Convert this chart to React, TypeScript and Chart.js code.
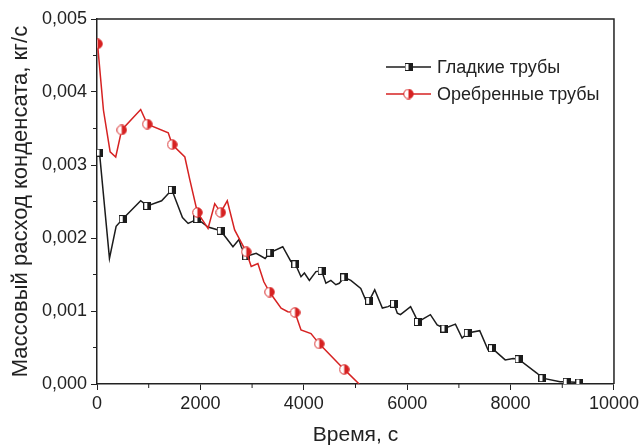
import React, { useEffect, useRef } from "react";
import { Chart, registerables } from "chart.js";

Chart.register(...registerables);

// ---- Data ----
const seriesNames = ["Гладкие трубы", "Оребренные трубы"];

const smoothTime = [48, 241, 370, 497, 845, 973, 1250, 1448, 1653, 1763, 1942, 2148, 2393, 2630, 2746, 2790, 2887, 3079, 3252, 3349, 3593, 3750, 3838, 3946, 4012, 4108, 4235, 4345, 4428, 4524, 4620, 4686, 4782, 4910, 5102, 5198, 5264, 5372, 5520, 5630, 5745, 5809, 5870, 6066, 6150, 6208, 6449, 6580, 6721, 6933, 7062, 7171, 7403, 7563, 7640, 7896, 8050, 8154, 8507, 8617, 8956, 9085, 9330];
const smoothFlow = [0.00317, 0.00172, 0.00216, 0.00226, 0.00251, 0.00244, 0.00251, 0.00266, 0.00228, 0.0022, 0.00226, 0.00215, 0.0021, 0.00188, 0.00198, 0.00188, 0.00175, 0.00179, 0.00172, 0.0018, 0.00188, 0.00168, 0.00164, 0.00147, 0.00152, 0.00142, 0.00154, 0.00155, 0.00138, 0.00142, 0.00136, 0.00138, 0.00146, 0.00142, 0.00131, 0.00115, 0.00114, 0.00129, 0.00104, 0.00106, 0.0011, 0.00097, 0.00095, 0.00106, 0.00094, 0.00085, 0.00095, 0.00081, 0.00076, 0.00082, 0.00063, 0.0007, 0.00073, 0.00047, 0.00049, 0.00033, 0.00035, 0.00034, 0.00015, 0.00008, 0.00003, 0.00003, 0.00002];
const smoothMarked = [1, 0, 0, 1, 0, 1, 0, 1, 0, 0, 1, 0, 1, 0, 0, 0, 1, 0, 0, 1, 0, 0, 1, 0, 0, 0, 0, 1, 0, 0, 0, 0, 1, 0, 0, 0, 1, 0, 0, 0, 1, 0, 0, 0, 0, 1, 0, 0, 1, 0, 0, 1, 0, 0, 1, 0, 0, 1, 0, 1, 0, 1, 1];

const ribbedTime = [10, 125, 254, 362, 478, 845, 973, 1378, 1455, 1699, 1795, 1942, 2148, 2277, 2393, 2520, 2662, 2759, 2887, 2983, 3112, 3227, 3337, 3561, 3690, 3830, 3946, 4139, 4300, 4782, 5071];
const ribbedFlow = [0.00466, 0.00375, 0.00318, 0.00311, 0.00348, 0.00376, 0.00356, 0.00344, 0.00328, 0.00311, 0.0028, 0.00235, 0.00213, 0.00247, 0.00235, 0.00251, 0.00211, 0.00198, 0.00181, 0.00161, 0.00165, 0.0014, 0.00126, 0.00104, 0.00099, 0.00098, 0.00074, 0.00069, 0.00055, 0.0002, 0.0];
const ribbedMarked = [1, 0, 0, 0, 1, 0, 1, 0, 1, 0, 0, 1, 0, 0, 1, 0, 0, 0, 1, 0, 0, 0, 1, 0, 0, 1, 0, 0, 1, 1, 0];

const xTitle = "Время, с";
const yTitle = "Массовый расход конденсата, кг/с";

const BLACK = "#1c1c1c";
const RED = "#d62222";
const FONT = "'Liberation Sans', Arial, sans-serif";

function makeSquareMarker(size: number) {
  const c = document.createElement("canvas");
  c.width = size;
  c.height = size;
  const ctx = c.getContext("2d")!;
  ctx.fillStyle = "#ffffff";
  ctx.fillRect(0, 0, size, size);
  ctx.fillStyle = BLACK;
  ctx.fillRect(size / 2, 0, size / 2, size);
  ctx.strokeStyle = BLACK;
  ctx.lineWidth = 1;
  ctx.strokeRect(0.5, 0.5, size - 1, size - 1);
  return c;
}

function makeCircleMarker(size: number) {
  const c = document.createElement("canvas");
  c.width = size;
  c.height = size;
  const ctx = c.getContext("2d")!;
  const r = size / 2 - 0.75;
  const cx = size / 2;
  ctx.beginPath();
  ctx.arc(cx, cx, r, 0, Math.PI * 2);
  ctx.fillStyle = "#ffffff";
  ctx.fill();
  ctx.beginPath();
  ctx.moveTo(cx, cx - r);
  ctx.arc(cx, cx, r, -Math.PI / 2, Math.PI / 2);
  ctx.closePath();
  ctx.fillStyle = RED;
  ctx.fill();
  ctx.beginPath();
  ctx.arc(cx, cx, r, 0, Math.PI * 2);
  ctx.strokeStyle = RED;
  ctx.lineWidth = 1;
  ctx.stroke();
  return c;
}

export default function App() {
  const ref = useRef<HTMLCanvasElement | null>(null);

  useEffect(() => {
    if (!ref.current) return;
    const sq = makeSquareMarker(8);
    const ci = makeCircleMarker(11);
    Chart.defaults.font.family = FONT;
    Chart.defaults.color = "#222";

    const framePlugin = {
      id: "frameAndLegend",
      afterDraw(chart: any) {
        const { ctx, chartArea } = chart;
        const { left, right, top, bottom } = chartArea;
        ctx.save();
        ctx.strokeStyle = "#222";
        ctx.lineWidth = 1.5;
        ctx.beginPath();
        ctx.moveTo(left, top);
        ctx.lineTo(right, top);
        ctx.lineTo(right, bottom);
        ctx.stroke();
        // minor ticks
        ctx.lineWidth = 1;
        const xs = chart.scales.x;
        const ys = chart.scales.y;
        for (let v = 1000; v < 10000; v += 2000) {
          const px = xs.getPixelForValue(v);
          ctx.beginPath();
          ctx.moveTo(px, bottom);
          ctx.lineTo(px, bottom + 4);
          ctx.stroke();
        }
        for (let v = 0.0005; v < 0.005; v += 0.001) {
          const py = ys.getPixelForValue(v);
          ctx.beginPath();
          ctx.moveTo(left, py);
          ctx.lineTo(left - 4, py);
          ctx.stroke();
        }
        // legend
        const items = [
          { name: seriesNames[0], color: BLACK, img: sq, y: 67 },
          { name: seriesNames[1], color: RED, img: ci, y: 94 },
        ];
        ctx.font = "18px " + FONT;
        ctx.textBaseline = "middle";
        for (const it of items) {
          ctx.strokeStyle = it.color;
          ctx.lineWidth = 1.5;
          ctx.beginPath();
          ctx.moveTo(386, it.y);
          ctx.lineTo(431, it.y);
          ctx.stroke();
          ctx.drawImage(it.img, 408.5 - it.img.width / 2, it.y - it.img.height / 2);
          ctx.fillStyle = "#222";
          ctx.fillText(it.name, 437, it.y + 1);
        }
        ctx.restore();
      },
    };

    const chart = new Chart(ref.current, {
      type: "line",
      data: {
        datasets: [
          {
            label: seriesNames[1],
            data: ribbedTime.map((t, i) => ({ x: t, y: ribbedFlow[i] })),
            borderColor: RED,
            borderWidth: 1.5,
            tension: 0,
            pointStyle: ci as any,
            pointRadius: ribbedMarked.map((m) => (m ? 5 : 0)),
            order: 0,
          },
          {
            label: seriesNames[0],
            data: smoothTime.map((t, i) => ({ x: t, y: smoothFlow[i] })),
            borderColor: BLACK,
            borderWidth: 1.5,
            tension: 0,
            pointStyle: sq as any,
            pointRadius: smoothMarked.map((m) => (m ? 4 : 0)),
            order: 1,
          },
        ],
      },
      options: {
        responsive: false,
        animation: false,
        layout: { padding: { top: 19, right: 25, left: 0, bottom: 0 } },
        plugins: { legend: { display: false }, tooltip: { enabled: false } },
        scales: {
          x: {
            type: "linear",
            min: 0,
            max: 10000,
            afterFit: (s: any) => {
              s.height = 62;
            },
            ticks: {
              stepSize: 2000,
              font: { size: 18 },
              padding: 3,
              maxRotation: 0,
              color: "#222",
              callback: (v: any) => String(v),
            },
            grid: { drawOnChartArea: false, tickLength: 6, color: "#222", tickWidth: 1 },
            border: { color: "#222", width: 1.5 },
            title: { display: true, text: xTitle, font: { size: 21, lineHeight: 1 }, padding: { top: 0, bottom: 0 }, color: "#222" },
          },
          y: {
            type: "linear",
            min: 0,
            max: 0.005,
            afterFit: (s: any) => {
              s.width = 97;
            },
            ticks: {
              stepSize: 0.001,
              font: { size: 18 },
              padding: 4,
              color: "#222",
              callback: (v: any) => Number(v).toFixed(3).replace(".", ","),
            },
            grid: { drawOnChartArea: false, tickLength: 6, color: "#222", tickWidth: 1 },
            border: { color: "#222", width: 1.5 },
            title: { display: true, text: yTitle, font: { size: 22, lineHeight: 1 }, padding: { top: 10, bottom: 0 }, color: "#222" },
          },
        },
      },
      plugins: [framePlugin],
    });
    return () => chart.destroy();
  }, []);

  return (
    <div style={{ position: "fixed", left: 0, top: 0, width: 642, height: 446, background: "#fff" }}>
      <canvas ref={ref} width={642} height={446} style={{ width: 642, height: 446, display: "block" }} />
    </div>
  );
}
